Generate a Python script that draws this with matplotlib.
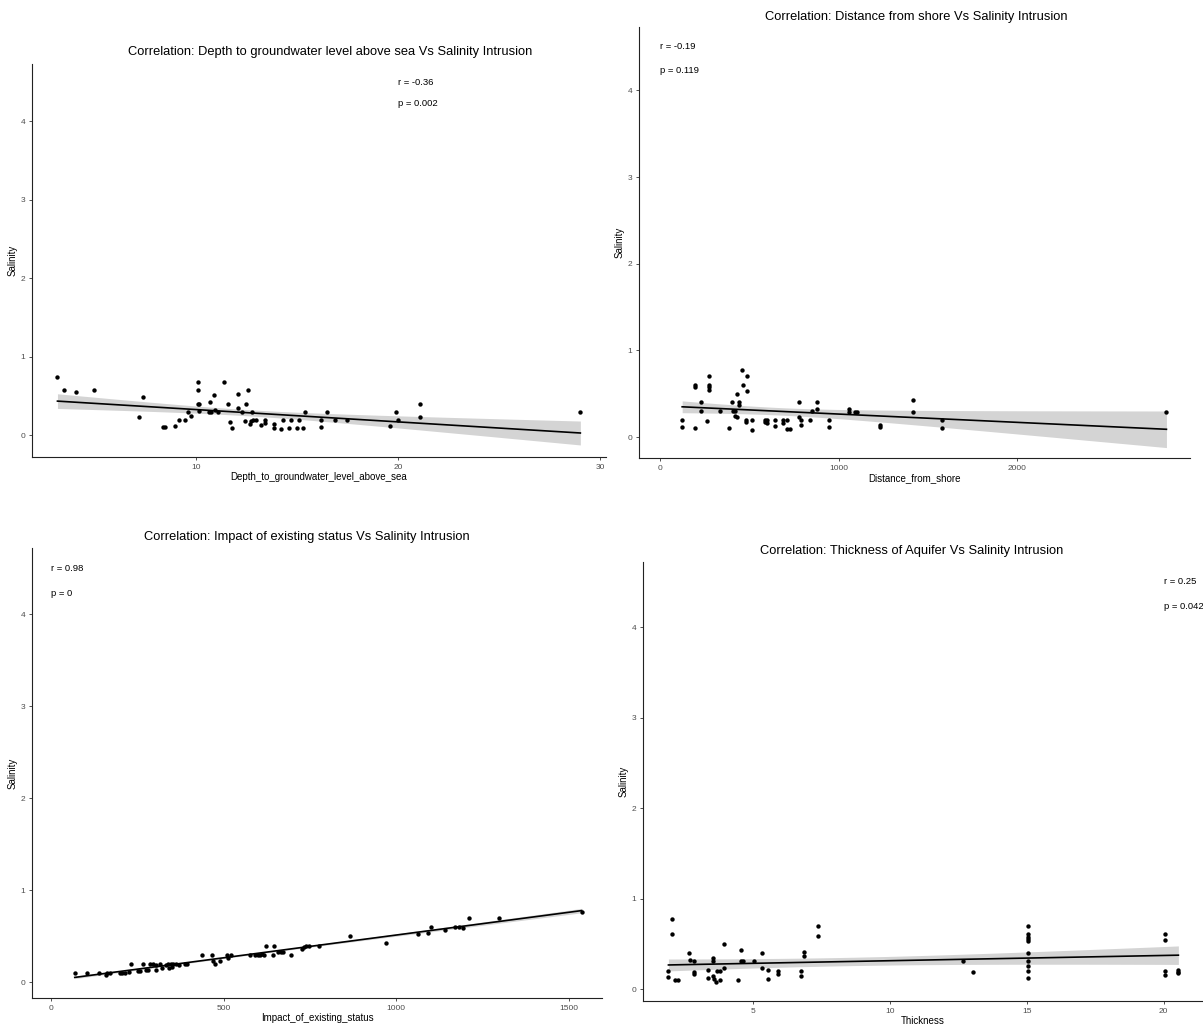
import numpy as np
import matplotlib
matplotlib.use("Agg")
import matplotlib.pyplot as plt

plt.rcParams['font.family'] = ['Liberation Sans', 'DejaVu Sans']

# --- datos ---
depth_x = [3.15, 3.48, 4.06, 4.98, 7.17, 7.39, 8.36, 8.48, 8.96, 9.18, 9.47, 9.6, 9.76,
           10.09, 10.09, 10.09, 10.18, 10.18, 10.68, 10.64, 10.73, 10.9, 10.97, 11.1, 11.39,
           11.59, 11.68, 11.79, 12.08, 12.1, 12.28, 12.41, 12.5, 12.59, 12.7, 12.74, 12.83,
           12.96, 12.79, 13.2, 13.4, 13.4, 13.87, 13.87, 14.2, 14.29, 14.6, 14.71, 14.99,
           15.11, 15.28, 15.39, 16.2, 16.2, 16.5, 16.9, 17.49, 19.59, 19.92, 19.99, 21.09,
           21.09, 29.03]
depth_y = [0.745, 0.58, 0.55, 0.58, 0.23, 0.49, 0.10, 0.10, 0.12, 0.19, 0.19, 0.30, 0.24,
           0.675, 0.576, 0.40, 0.40, 0.31, 0.42, 0.30, 0.30, 0.52, 0.32, 0.30, 0.675,
           0.40, 0.17, 0.095, 0.35, 0.53, 0.30, 0.185, 0.40, 0.58, 0.144, 0.185, 0.19,
           0.19, 0.30, 0.13, 0.19, 0.156, 0.144, 0.095, 0.086, 0.19, 0.095, 0.19, 0.095,
           0.19, 0.095, 0.30, 0.19, 0.11, 0.30, 0.19, 0.19, 0.12, 0.30, 0.19, 0.40,
           0.23, 0.30]

dist_x = [123, 123, 196, 196, 196, 228, 228, 265, 273, 273, 273, 273, 337, 384, 402, 406,
          418, 418, 430, 432, 444, 444, 460, 463, 483, 483, 489, 489, 515, 517, 586, 586,
          596, 600, 642, 642, 691, 691, 709, 709, 725, 776, 776, 790, 792, 838, 851, 879,
          879, 947, 947, 1061, 1061, 1091, 1101, 1234, 1234, 1418, 1418, 1582, 1582, 2838]
dist_y = [0.20, 0.116, 0.605, 0.578, 0.105, 0.40, 0.30, 0.19, 0.705, 0.605, 0.578, 0.546,
          0.30, 0.105, 0.40, 0.30, 0.30, 0.25, 0.23, 0.50, 0.40, 0.37, 0.78, 0.605, 0.20,
          0.17, 0.70, 0.527, 0.20, 0.08, 0.20, 0.17, 0.20, 0.16, 0.20, 0.13, 0.20, 0.16,
          0.20, 0.10, 0.10, 0.40, 0.23, 0.20, 0.14, 0.20, 0.30, 0.40, 0.32, 0.20, 0.116,
          0.33, 0.29, 0.29, 0.29, 0.143, 0.112, 0.434, 0.29, 0.20, 0.11, 0.29]

impact_x = [68, 103, 138, 159, 161, 170, 199, 206, 213, 224, 231, 251, 256, 267, 275, 281,
            285, 294, 303, 305, 315, 321, 332, 339, 346, 353, 361, 342, 351, 369, 389, 394,
            436, 466, 469, 474, 488, 509, 513, 520, 577, 590, 598, 604, 611, 617, 624, 642,
            647, 658, 665, 671, 695, 727, 732, 738, 746, 775, 865, 970, 1064, 1093, 1100,
            1142, 1171, 1182, 1195, 1212, 1298, 1538]
impact_y = [0.10, 0.10, 0.10, 0.084, 0.10, 0.10, 0.10, 0.10, 0.10, 0.11, 0.20, 0.127, 0.127,
            0.20, 0.138, 0.138, 0.20, 0.20, 0.138, 0.185, 0.20, 0.156, 0.185, 0.20, 0.20,
            0.20, 0.20, 0.156, 0.171, 0.185, 0.196, 0.20, 0.30, 0.30, 0.23, 0.20, 0.236,
            0.30, 0.26, 0.30, 0.30, 0.30, 0.30, 0.30, 0.31, 0.30, 0.40, 0.30, 0.40, 0.327,
            0.327, 0.335, 0.30, 0.36, 0.385, 0.40, 0.40, 0.40, 0.50, 0.433, 0.53, 0.54, 0.60,
            0.567, 0.60, 0.60, 0.59, 0.70, 0.70, 0.767]

thick_x = [1.90, 1.90, 2.04, 2.04, 2.15, 2.25, 2.64, 2.67, 2.83, 2.83, 2.83, 3.33, 3.33,
           3.53, 3.53, 3.53, 3.57, 3.64, 3.67, 3.78, 3.80, 3.94, 3.94, 4.44, 4.54, 4.54,
           4.64, 5.03, 5.33, 5.33, 5.53, 5.53, 5.90, 5.90, 6.74, 6.74, 6.85, 6.85, 7.37,
           7.37, 12.67, 13.04, 15.03, 15.03, 15.03, 15.03, 15.03, 15.03, 15.03, 15.03,
           15.03, 15.03, 20.06, 20.06, 20.06, 20.06, 20.54, 20.54, 20.54]
thick_y = [0.206, 0.132, 0.772, 0.607, 0.107, 0.107, 0.40, 0.32, 0.31, 0.195, 0.173, 0.21,
           0.125, 0.34, 0.31, 0.15, 0.11, 0.085, 0.206, 0.107, 0.206, 0.50, 0.23, 0.103,
           0.43, 0.31, 0.31, 0.31, 0.40, 0.235, 0.21, 0.114, 0.206, 0.17, 0.206, 0.15,
           0.41, 0.37, 0.70, 0.59, 0.31, 0.19, 0.70, 0.607, 0.58, 0.555, 0.533, 0.40,
           0.31, 0.26, 0.206, 0.125, 0.607, 0.54, 0.206, 0.154, 0.21, 0.19, 0.176]

titles = ["Correlation: Depth to groundwater level above sea Vs Salinity Intrusion",
          "Correlation: Distance from shore Vs Salinity Intrusion",
          "Correlation: Impact of existing status Vs Salinity Intrusion",
          "Correlation: Thickness of Aquifer Vs Salinity Intrusion"]
xlabels = ["Depth_to_groundwater_level_above_sea", "Distance_from_shore",
           "Impact_of_existing_status", "Thickness"]
r_labels = ["r = -0.36", "r = -0.19", "r = 0.98", "r = 0.25"]
p_labels = ["p = 0.002", "p = 0.119", "p = 0", "p = 0.042"]
label_x = [20, 0, 0, 20]
xticks = [[10, 20, 30], [0, 1000, 2000], [0, 500, 1000, 1500], [5, 10, 15, 20]]

# posiciones de los paneles en pixeles (izq, arriba, der, abajo)
paneles = [(32, 64, 606, 457), (639, 27, 1190, 458), (32, 548, 602, 998), (643, 562, 1203, 1001)]
xlims = [(1.89, 30.3), (-119, 2970), (-56, 1597), (0.97, 21.44)]
ylims = [(-0.276, 4.73), (-0.24, 4.73), (-0.17, 4.72), (-0.13, 4.72)]
title_pos = [(330, 52), (916, 17), (307, 537), (912, 551)]

W, H = 1203, 1025
fig = plt.figure(figsize=(W / 100, H / 100), dpi=100)

datos = [(depth_x, depth_y), (dist_x, dist_y), (impact_x, impact_y), (thick_x, thick_y)]

for i, (xs, ys) in enumerate(datos):
    l, t, r, b = paneles[i]
    ax = fig.add_axes([l / W, 1 - b / H, (r - l) / W, (b - t) / H])
    x = np.array(xs, dtype=float)
    y = np.array(ys, dtype=float)

    # ajuste lineal y banda de confianza 95%
    n = len(x)
    slope, inter = np.polyfit(x, y, 1)
    xg = np.linspace(x.min(), x.max(), 80)
    yg = slope * xg + inter
    resid = y - (slope * x + inter)
    s = np.sqrt(np.sum(resid ** 2) / (n - 2))
    se = s * np.sqrt(1 / n + (xg - x.mean()) ** 2 / np.sum((x - x.mean()) ** 2))
    tcrit = 1.99
    ax.fill_between(xg, yg - tcrit * se, yg + tcrit * se, color='#d4d4d4', lw=0, zorder=1)
    ax.scatter(x, y, s=10, color='black', lw=0, zorder=2)
    ax.plot(xg, yg, color='black', lw=1.2, zorder=3)

    ax.text(label_x[i], 4.5, r_labels[i], fontsize=6.8, va='center', ha='left')
    ax.text(label_x[i], 4.23, p_labels[i], fontsize=6.8, va='center', ha='left')

    ax.set_xlim(*xlims[i])
    ax.set_ylim(*ylims[i])
    ax.set_xticks(xticks[i])
    ax.set_yticks([0, 1, 2, 3, 4])
    ax.tick_params(labelsize=6, labelcolor='#4d4d4d', color='#333333', length=2.5, width=0.6, pad=2.5)
    for sp in ['top', 'right']:
        ax.spines[sp].set_visible(False)
    for sp in ['left', 'bottom']:
        ax.spines[sp].set_linewidth(0.8)
        ax.spines[sp].set_color('#222222')
    ax.set_xlabel(xlabels[i], fontsize=7, labelpad=1)
    ax.set_ylabel('Salinity', fontsize=7, labelpad=2)

    tx, ty = title_pos[i]
    fig.text(tx / W, 1 - ty / H, titles[i], fontsize=9.3, ha='center', va='center')

fig.savefig('out.png', dpi=100)
